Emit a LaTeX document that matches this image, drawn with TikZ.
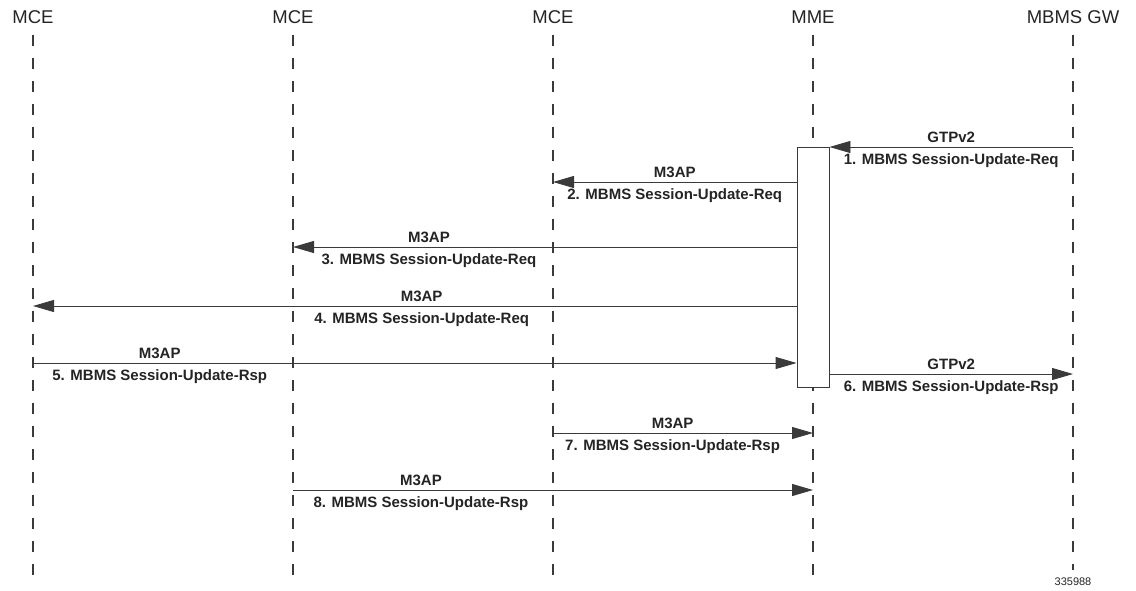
\documentclass[tikz,border=0pt]{standalone}
\usepackage{fontspec}
\setmainfont{Liberation Sans}
\usetikzlibrary{arrows.meta,positioning}
\definecolor{linegray}{HTML}{3A3A3A}
\definecolor{textgray}{HTML}{242424}
\tikzstyle{head}  = [text=textgray, font=\fontsize{18.5}{22}\selectfont, inner sep=0pt]
\tikzstyle{life}  = [draw=linegray, line width=1.2pt, dash pattern=on 11pt off 12pt]
\tikzstyle{act}   = [rectangle, draw=linegray, fill=white, line width=0.9pt, inner sep=0pt, minimum width=32pt, minimum height=240pt]
\tikzstyle{line}  = [draw=linegray, line width=0.9pt, -{Triangle[length=21pt, width=12pt]}]
\tikzstyle{proto} = [text=textgray, font=\bfseries\fontsize{15}{18}\selectfont, inner sep=0pt, above=4pt]
\tikzstyle{msg}   = [text=textgray, font=\bfseries\fontsize{15}{18}\selectfont, inner sep=0pt, below=6pt]

\begin{document}
\begin{tikzpicture}[x=1pt, y=-1pt]
		\useasboundingbox (0,0) rectangle (1136,590);
	
		% Node Setting %
		
		% 0 =======================================%
		\node [head] (mce1) at (33,17.5) {MCE};
		\node [head] (mce2) at (293,17.5) {MCE};
		\node [head] (mce3) at (553,17.5) {MCE};
		\node [head] (mme) at (813,17.5) {MME};
		\node [head] (gw) at (1073,17.5) {MBMS GW};
		% 1 =======================================%
		\path [life] (mce1 |- 0,35) -- (mce1 |- 0,578);
		\path [life] (mce2 |- 0,35) -- (mce2 |- 0,578);
		\path [life] (mce3 |- 0,35) -- (mce3 |- 0,578);
		\path [life] (mme |- 0,35) -- (mme |- 0,578);
		\path [life] (gw |- 0,35) -- (gw |- 0,570);
		\node [text=textgray, font=\fontsize{11}{13}\selectfont, inner sep=0pt] (ref) at (1073,582) {335988};
		% 2 =======================================%
		\node [act] (mmebox) at (813,267) {};
		%=========================================%
		
		% Connection %
		
		\path [line] (gw |- 0,147) -- (mmebox.east |- 0,147)
			node [proto, midway] {GTPv2} node [msg, midway] {1. MBMS Session-Update-Req};
		\path [line] (mmebox.west |- 0,182) -- (mce3 |- 0,182)
			node [proto, midway] {M3AP} node [msg, midway] {2. MBMS Session-Update-Req};
		\path [line] (mmebox.west |- 0,247) -- (mce2 |- 0,247)
			node [proto, pos=0.73] {M3AP} node [msg, pos=0.73] {3. MBMS Session-Update-Req};
		\path [line] (mmebox.west |- 0,306) -- (mce1 |- 0,306)
			node [proto, pos=0.491] {M3AP} node [msg, pos=0.491] {4. MBMS Session-Update-Req};
		\path [line] (mce1 |- 0,363) -- (mmebox.west |- 0,363)
			node [proto, pos=0.166] {M3AP} node [msg, pos=0.166] {5. MBMS Session-Update-Rsp};
		\path [line] (mmebox.east |- 0,374) -- (gw |- 0,374)
			node [proto, midway] {GTPv2} node [msg, midway] {6. MBMS Session-Update-Rsp};
		\path [line] (mce3 |- 0,433) -- (mme |- 0,433)
			node [proto, pos=0.46] {M3AP} node [msg, pos=0.46] {7. MBMS Session-Update-Rsp};
		\path [line] (mce2 |- 0,490) -- (mme |- 0,490)
			node [proto, pos=0.246] {M3AP} node [msg, pos=0.246] {8. MBMS Session-Update-Rsp};
	\end{tikzpicture}
\end{document}
